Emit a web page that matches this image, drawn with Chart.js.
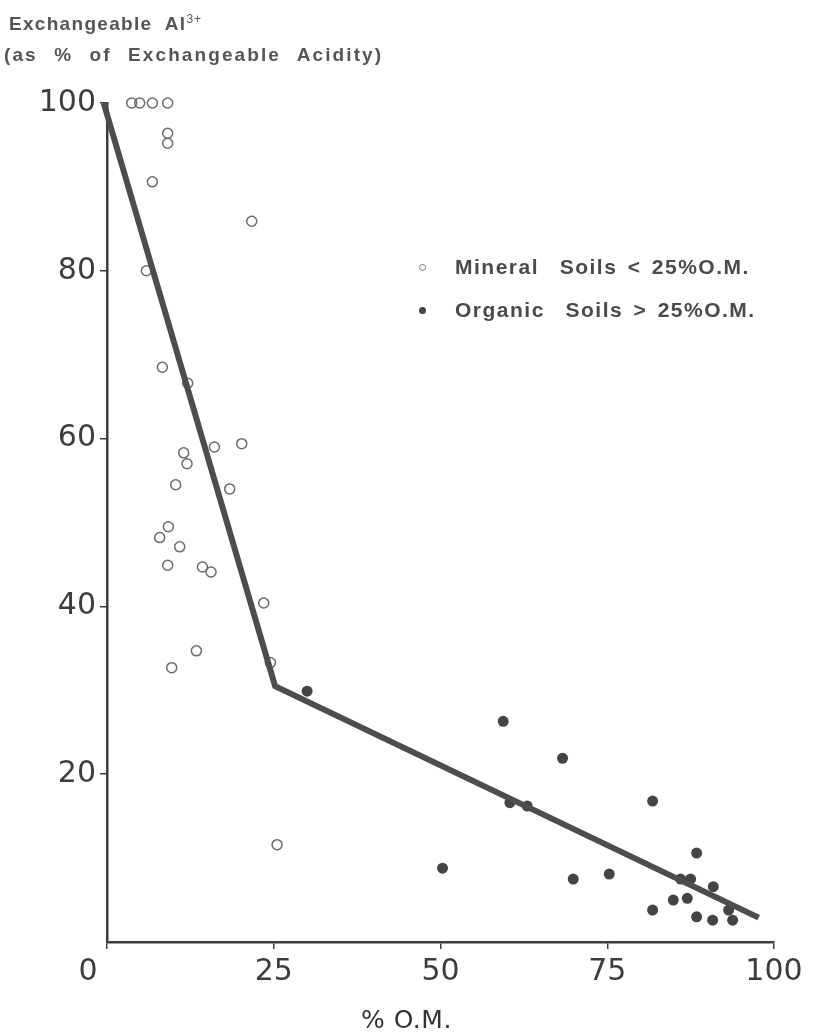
<!DOCTYPE html>
<html>
<head>
<meta charset="utf-8">
<script src="https://cdn.jsdelivr.net/npm/chart.js@4.4.1/dist/chart.umd.min.js"></script>
<style>
  html, body { margin: 0; padding: 0; background: #fff; }
  #wrap { position: relative; width: 814px; height: 1035px; overflow: hidden; }
  canvas { position: absolute; left: 0; top: 0; }
  .txt { position: absolute; font-family: 'Liberation Sans', Arial, sans-serif; color: #4a4a4a; white-space: pre; font-weight: bold; }
  .title { font-size: 19px; letter-spacing: 1.3px; color: #555; }
  .title sup { font-size: 12px; font-weight: normal; letter-spacing: 1px; }
  .legend { font-size: 21px; letter-spacing: 1.5px; word-spacing: 3px; }
  .mark { position: absolute; width: 7px; height: 7px; border-radius: 50%; box-sizing: border-box; }
  .xtitle { font-family: 'DejaVu Sans', sans-serif; font-size: 25px; letter-spacing: 0.5px; font-weight: normal; color: #333; }
</style>
</head>
<body>
<div id="wrap">
  <canvas id="chart" width="814" height="1035"></canvas>
  <div class="txt title" style="left:9px; top:12px;">Exchangeable  Al<sup>3+</sup></div>
  <div class="txt title" style="left:4px; top:44px; word-spacing:9px; letter-spacing:2.1px;">(as % of Exchangeable Acidity)</div>
  <div class="mark" style="left:419px; top:264px; border:1.5px solid #777;"></div>
  <div class="txt legend" style="left:455px; top:255px;">Mineral  Soils &lt; 25%O.M.</div>
  <div class="mark" style="left:419px; top:307px; background:#444;"></div>
  <div class="txt legend" style="left:455px; top:298px;">Organic  Soils &gt; 25%O.M.</div>
  <div class="txt xtitle" style="left:361px; top:1005px;">% O.M.</div>
</div>
<script>
// open circles: mineral soils (< 25 % O.M.)
const mineralX = [3.7, 4.9, 6.8, 9.1, 9.1, 9.1, 6.8, 21.7, 5.9, 8.3, 12.1, 16.1, 20.2, 11.5, 12.0, 10.3, 18.4,
                  9.2, 7.9, 10.9, 9.1, 14.3, 15.6, 23.5, 13.4, 9.7, 24.5, 25.5];
const mineralY = [100, 100, 100, 100, 96.4, 95.2, 90.6, 85.9, 80.0, 68.5, 66.6, 59.0, 59.4, 58.3, 57.0, 54.5, 54.0,
                  49.5, 48.2, 47.1, 44.9, 44.7, 44.1, 40.4, 34.7, 32.7, 33.3, 11.6];

// filled circles: organic soils (> 25 % O.M.)
const organicX = [30.0, 59.4, 68.3, 81.8, 60.4, 63.0, 50.3, 69.9, 75.3, 88.4, 86.0, 87.5, 90.9, 84.9, 87.0,
                  81.8, 88.4, 90.8, 93.8, 93.2];
const organicY = [29.9, 26.3, 21.9, 16.8, 16.6, 16.2, 8.8, 7.5, 8.1, 10.6, 7.5, 7.5, 6.6, 5.0, 5.2,
                  3.8, 3.0, 2.6, 2.6, 3.8];

// broken-line fit
const fitX = [-0.5, 25.2, 97.7];
const fitY = [100, 30.5, 2.9];

const xTicks = [0, 25, 50, 75, 100];
const yTicks = [20, 40, 60, 80, 100];

const toPoints = (xs, ys) => xs.map((x, i) => ({ x: x, y: ys[i] }));

const inkColor = '#3c3c3c';
const tickFont = { family: "'DejaVu Sans', sans-serif", size: 30 };

new Chart(document.getElementById('chart'), {
    type: 'scatter',
    data: {
        datasets: [
            {
                label: 'Fit',
                data: toPoints(fitX, fitY),
                showLine: true,
                borderColor: '#4d4d4d',
                borderWidth: 6,
                pointRadius: 0,
                clip: false,
                order: 0
            },
            {
                label: 'Mineral Soils < 25% O.M.',
                data: toPoints(mineralX, mineralY),
                pointRadius: 5,
                pointBackgroundColor: 'rgba(255,255,255,0)',
                pointBorderColor: '#6a6a6a',
                pointBorderWidth: 1.5,
                clip: false,
                order: 1
            },
            {
                label: 'Organic Soils > 25% O.M.',
                data: toPoints(organicX, organicY),
                pointRadius: 5.5,
                pointBackgroundColor: '#444',
                pointBorderColor: '#444',
                pointBorderWidth: 0,
                clip: false,
                order: 1
            }
        ]
    },
    options: {
        responsive: false,
        animation: false,
        devicePixelRatio: 1,
        layout: { padding: { top: 103, right: 40, left: 0, bottom: 0 } },
        plugins: {
            legend: { display: false },
            tooltip: { enabled: false }
        },
        scales: {
            x: {
                type: 'linear',
                min: 0,
                max: 100,
                afterFit: (scale) => { scale.height = 93; },
                afterBuildTicks: (scale) => { scale.ticks = xTicks.map(v => ({ value: v })); },
                ticks: {
                    font: tickFont, color: inkColor, padding: 5, maxRotation: 0,
                    // the "0" sits a little left of the origin in the original
                    callback: (v) => v === 0 ? '0\u00a0\u00a0\u00a0\u00a0' : String(v)
                },
                grid: { drawOnChartArea: false, tickLength: 7, color: inkColor, lineWidth: 1.5 },
                border: { display: true, color: inkColor, width: 2.5 }
            },
            y: {
                type: 'linear',
                min: 0,
                max: 100,
                afterFit: (scale) => { scale.width = 107; },
                afterBuildTicks: (scale) => { scale.ticks = yTicks.map(v => ({ value: v })); },
                ticks: { font: tickFont, color: inkColor, padding: 4 },
                grid: { drawOnChartArea: false, tickLength: 7, color: inkColor, lineWidth: 1.5 },
                border: { display: true, color: inkColor, width: 2.5 }
            }
        }
    }
});
</script>
</body>
</html>
